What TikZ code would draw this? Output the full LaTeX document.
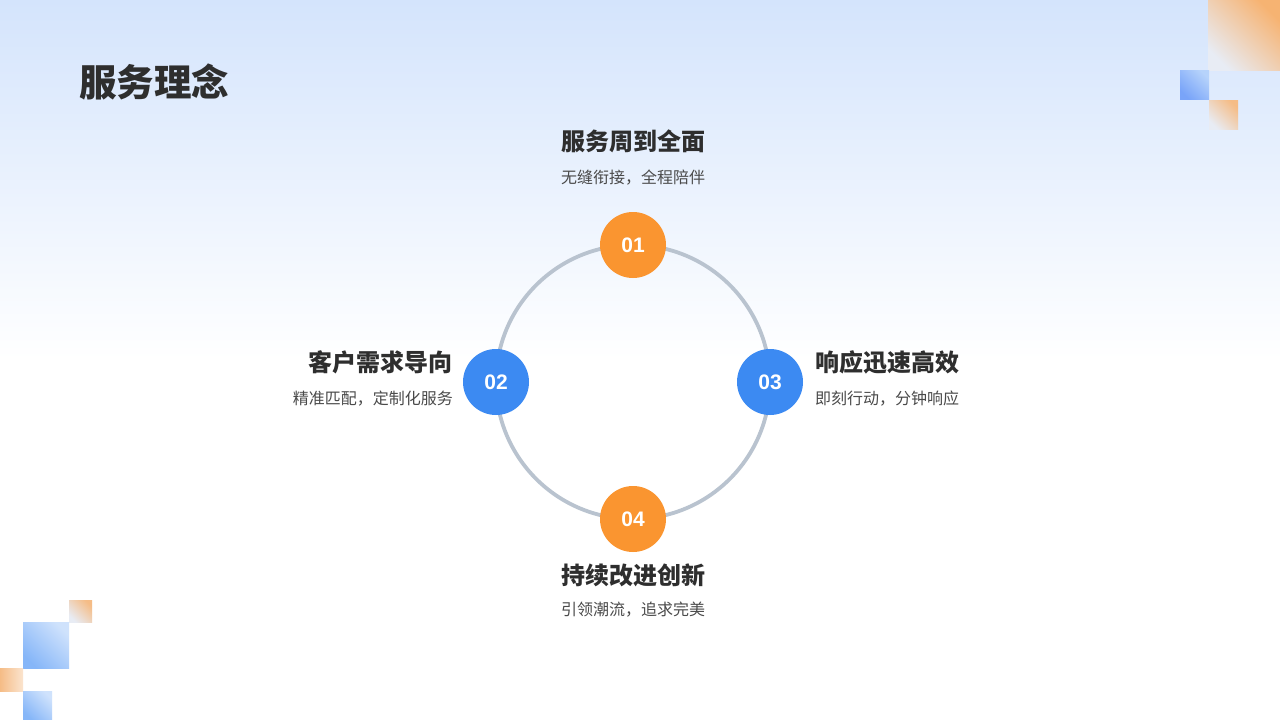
\documentclass[tikz,border=0pt]{standalone}
\usepackage{fontspec}
\setmainfont{Noto Sans CJK SC}
\newfontfamily\digitfont{Liberation Sans}
\usetikzlibrary{positioning}
\definecolor{bgblue}{HTML}{D4E4FC}
\definecolor{ringgray}{HTML}{B9C3CF}
\definecolor{dotorange}{HTML}{FA9530}
\definecolor{dotblue}{HTML}{3C8AF2}
\definecolor{headc}{HTML}{2E2E2E}
\definecolor{subc}{HTML}{4A4A4A}
\definecolor{decoorange}{HTML}{F5BC86}
\definecolor{decoblue}{HTML}{86B6F8}
\definecolor{decolight}{HTML}{E8ECF4}
\begin{document}
\begin{tikzpicture}[x=1pt,y=-1pt,
  dot/.style={circle,minimum size=66pt,inner sep=0pt,text=white,font=\digitfont\fontsize{21}{24}\selectfont\bfseries},
  head/.style={text=headc,inner sep=0pt,font=\fontsize{24}{27}\selectfont\bfseries},
  sub/.style={text=subc,inner sep=0pt,font=\fontsize{16}{19}\selectfont},
  ring/.style={draw=ringgray,line width=3.8pt},
  deco/.style={shading=axis,top color=#1,bottom color=decolight,shading angle=-45}]
\useasboundingbox (0,0) rectangle (1280,720);
\fill[white] (0,0) rectangle (1280,720);
\shade[top color=bgblue,bottom color=white] (0,0) rectangle (1280,360);
% decorations top right
\shade[deco=decoorange!85!orange] (1208,0) rectangle (1280,70);
\shade[shading=axis,top color=white!40!decoblue,bottom color=decoblue!90!blue,shading angle=-45] (1180,70) rectangle (1209,99);
\shade[deco=decoorange] (1209,100) rectangle (1238,129);
% decorations bottom left
\shade[deco=decoorange] (69,600) rectangle (92,622);
\shade[shading=axis,top color=white!60!decoblue,bottom color=decoblue,shading angle=-45] (23,622) rectangle (69,668);
\shade[shading=axis,left color=decoorange,right color=white!60!decoorange] (0,668) rectangle (23,691);
\shade[shading=axis,top color=white!60!decoblue,bottom color=decoblue,shading angle=-45] (23,691) rectangle (52,720);
% title
\node[anchor=west,text=headc,inner sep=0pt,font=\fontsize{37.5}{42}\selectfont\bfseries] (title) at (79,82) {服务理念};
% ring
\coordinate (ctr) at (633,382);
\draw[ring] (ctr) circle (137);
\node[dot,fill=dotorange] (c1) at (633,245) {01};
\node[dot,fill=dotblue] (c2) at (496,382) {02};
\node[dot,fill=dotblue] (c3) at (770,382) {03};
\node[dot,fill=dotorange] (c4) at (633,519) {04};
% labels
\node[head] (h1) at (633,141) {服务周到全面};
\node[sub] (s1) at (633,178) {无缝衔接，全程陪伴};
\node[head,anchor=east] (h2) at (453,362) {客户需求导向};
\node[sub,anchor=east] (s2) at (453,399) {精准匹配，定制化服务};
\node[head,anchor=west] (h3) at (815,362) {响应迅速高效};
\node[sub,anchor=west] (s3) at (815,399) {即刻行动，分钟响应};
\node[head] (h4) at (633,575) {持续改进创新};
\node[sub] (s4) at (633,610) {引领潮流，追求完美};
\end{tikzpicture}
\end{document}
